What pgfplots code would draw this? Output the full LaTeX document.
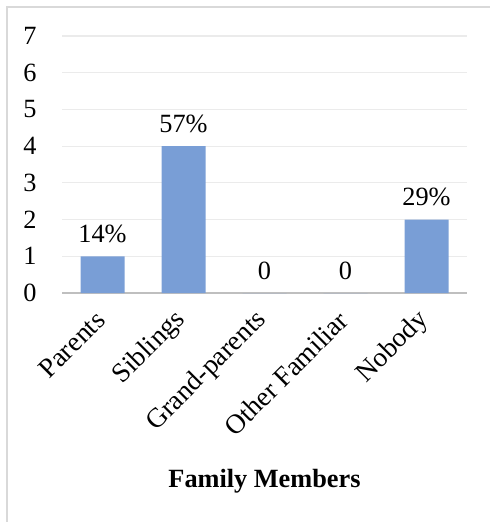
\documentclass[border=0pt]{standalone}
\usepackage{pgfplots}
\pgfplotsset{compat=1.18}
\usepackage{fontspec}
\setmainfont{Liberation Serif}
\definecolor{barblue}{RGB}{121,158,214}
\definecolor{gridgray}{RGB}{235,235,235}
\definecolor{axisgray}{RGB}{191,191,191}
\definecolor{framegray}{RGB}{217,217,217}
\begin{document}
\begin{tikzpicture}
\useasboundingbox (0,0) rectangle (490bp,522bp);
\draw[framegray, line width=1.5bp] (7bp,0) -- (7bp,515bp) -- (490bp,515bp);
\begin{axis}[
  at={(62bp,229bp)}, anchor=south west,
  scale only axis, width=405bp, height=257bp,
  ymin=0, ymax=7, xmin=-0.5, xmax=4.5,
  ytick={0,...,7}, xtick=data,
  xticklabels={Parents,Siblings,Grand-parents,Other Familiar,Nobody},
  /pgf/number format/assume math mode=true,
  font=\fontsize{26.4}{30}\selectfont,
  tick label style={font=\fontsize{26.4}{30}\selectfont},
  axis x line*=bottom, axis y line*=left,
  x axis line style={axisgray, line width=2bp},
  y axis line style={draw=none},
  ymajorgrids, major grid style={gridgray, line width=1.2bp},
  major tick length=0pt,
  yticklabel style={anchor=east, xshift=-22bp},
  xticklabel style={font=\fontsize{27.5}{30}\selectfont, xshift=-2bp, yshift=-23bp, rotate=45, anchor=east, inner sep=0pt},
  xlabel={\textbf{Family Members}},
  xlabel style={at={(axis description cs:0.5,0)}, anchor=center, yshift=-188bp, font=\fontsize{26.4}{30}\selectfont},
  clip=false,
]
\addplot[ybar, bar width=44bp, fill=barblue, draw=none,
  nodes near coords, point meta=explicit symbolic,
  every node near coord/.style={font=\fontsize{26.4}{30}\selectfont, black, anchor=south, yshift=10bp}]
  coordinates {(0,1) [14\%] (1,4) [57\%] (2,0) [0] (3,0) [0] (4,2) [29\%]};
\end{axis}
\end{tikzpicture}
\end{document}
